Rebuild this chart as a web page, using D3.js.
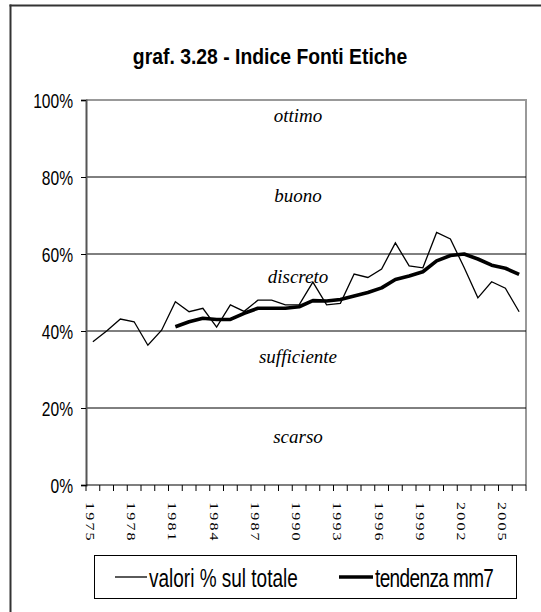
<!DOCTYPE html>
<html>
<head>
<meta charset="utf-8">
<script src="https://cdn.jsdelivr.net/npm/d3@7"></script>
<style>
  html, body { margin: 0; padding: 0; background: #fff; overflow: hidden; width: 541px; height: 612px; }
  svg { display: block; overflow: hidden; }
</style>
</head>
<body>
<svg id="chart" width="541" height="612"></svg>
<script>
// ---- data ----
const title = "graf. 3.28 - Indice Fonti Etiche";
const years = [1975, 1976, 1977, 1978, 1979, 1980, 1981, 1982, 1983, 1984, 1985, 1986, 1987, 1988, 1989, 1990,
               1991, 1992, 1993, 1994, 1995, 1996, 1997, 1998, 1999, 2000, 2001, 2002, 2003, 2004, 2005, 2006];
const values = [37.2, 40.0, 43.1, 42.4, 36.3, 40.2, 47.6, 45.0, 45.9, 41.0, 46.8, 45.1, 48.0, 48.0, 46.8, 46.8,
                52.7, 46.8, 47.2, 54.8, 53.9, 56.1, 62.9, 56.9, 56.4, 65.6, 63.9, 56.5, 48.6, 52.8, 51.1, 45.0];
const trend = [null, null, null, null, null, null, 41.1, 42.4, 43.3, 43.0, 43.0, 44.6, 45.9, 45.9, 45.9, 46.3,
               47.9, 47.8, 48.2, 49.1, 50.0, 51.2, 53.4, 54.3, 55.4, 58.2, 59.6, 60.0, 58.7, 57.1, 56.3, 54.7];
const yTicks = [0, 20, 40, 60, 80, 100];
const xLabelYears = [1975, 1978, 1981, 1984, 1987, 1990, 1993, 1996, 1999, 2002, 2005];
const bandLabels = ["scarso", "sufficiente", "discreto", "buono", "ottimo"];
const seriesNames = ["valori % sul totale", "tendenza mm7"];

// ---- layout ----
const svg = d3.select("#chart");
const L = 86, R = 526, T = 100, B = 485;
const x = d3.scaleBand().domain(years).range([L, R]);
const y = d3.scaleLinear().domain([0, 100]).range([B, T]);
const SANS = "'Liberation Sans', Arial, sans-serif";
const SERIF = "'Liberation Serif', 'Times New Roman', serif";

// outer frame: left and top edges only (the rest lies outside the picture)
svg.append("line").attr("x1", 10.5).attr("x2", 10.5).attr("y1", 4.5).attr("y2", 612)
  .attr("stroke", "#333").attr("stroke-width", 2);
svg.append("line").attr("x1", 9.5).attr("x2", 541).attr("y1", 5.5).attr("y2", 5.5)
  .attr("stroke", "#333").attr("stroke-width", 2);

// title
svg.append("text").attr("transform", "translate(270,64) scale(0.88,1)")
  .attr("text-anchor", "middle").attr("font-family", SANS).attr("font-weight", "bold")
  .attr("font-size", 22).attr("fill", "#000").text(title);

// plot border (top & right, gray)
svg.append("path").attr("d", `M${L},${T}H${R}V${B}`).attr("fill", "none")
  .attr("stroke", "#999").attr("stroke-width", 2);

// gridlines
svg.append("g").selectAll("line").data(yTicks.filter(d => d > 0 && d < 100)).join("line")
  .attr("x1", L).attr("x2", R).attr("y1", d => y(d)).attr("y2", d => y(d))
  .attr("stroke", "#000").attr("stroke-width", 1);

// band labels
svg.append("g").selectAll("text").data(bandLabels).join("text")
  .attr("x", 298).attr("y", (d, i) => y(i * 20 + 10) - 3.5 - 3.25 * i)
  .attr("text-anchor", "middle").attr("font-family", SERIF).attr("font-style", "italic")
  .attr("font-size", 19).attr("fill", "#000").text(d => d);

// y axis
const yAxis = svg.append("g").attr("transform", `translate(${L},0)`)
  .call(d3.axisLeft(y).tickValues(yTicks).tickSize(5).tickFormat(d => d + "%"));
yAxis.select(".domain").attr("stroke", "#555").attr("stroke-width", 2);
yAxis.selectAll(".tick line").attr("stroke", "#000");
yAxis.selectAll(".tick text").remove();
yAxis.selectAll(".tick").append("text")
  .attr("transform", "translate(-13,7) scale(0.8,1)")
  .attr("text-anchor", "end").attr("font-family", SANS).attr("font-size", 19.5)
  .attr("fill", "#000").text(d => d + "%");

// x axis
svg.append("line").attr("x1", L).attr("x2", R).attr("y1", B).attr("y2", B)
  .attr("stroke", "#000").attr("stroke-width", 1.2);
const bounds = years.map(d => x(d)).concat([x(years[years.length - 1]) + x.bandwidth()]);
svg.append("g").selectAll("line").data(bounds).join("line")
  .attr("x1", d => d).attr("x2", d => d).attr("y1", B).attr("y2", B + 6)
  .attr("stroke", "#000").attr("stroke-width", 1);
svg.append("g").selectAll("text").data(xLabelYears).join("text")
  .attr("transform", d => `translate(${x(d) + x.bandwidth() / 2 - 2.5},502) rotate(90) scale(1,0.8)`)
  .attr("dominant-baseline", "central").attr("font-family", SERIF).attr("font-size", 16)
  .attr("letter-spacing", 2.2).attr("fill", "#000").text(d => d);

// lines
const cx = d => x(d) + x.bandwidth() / 2;
const line = d3.line().defined(d => d[1] != null).x(d => cx(d[0])).y(d => y(d[1]));
svg.append("path").datum(years.map((d, i) => [d, values[i]])).attr("d", line)
  .attr("fill", "none").attr("stroke", "#000").attr("stroke-width", 1.3).attr("stroke-linejoin", "miter");
svg.append("path").datum(years.map((d, i) => [d, trend[i]])).attr("d", line)
  .attr("fill", "none").attr("stroke", "#000").attr("stroke-width", 3.6).attr("stroke-linejoin", "round");

// legend
const lg = svg.append("g");
lg.append("rect").attr("x", 94.5).attr("y", 555.5).attr("width", 422).attr("height", 43)
  .attr("fill", "#fff").attr("stroke", "#000").attr("stroke-width", 1);
const legendItems = [
  { name: seriesNames[0], x0: 115, x1: 147, w: 1.3, tx: 149, ls: 0 },
  { name: seriesNames[1], x0: 339, x1: 373, w: 3.6, tx: 375, ls: -0.8 }
];
legendItems.forEach(it => {
  lg.append("line").attr("x1", it.x0).attr("x2", it.x1).attr("y1", 577).attr("y2", 577)
    .attr("stroke", "#000").attr("stroke-width", it.w);
  lg.append("text").attr("transform", `translate(${it.tx},587) scale(0.76,1)`)
    .attr("font-family", SANS).attr("font-size", 25).attr("letter-spacing", it.ls)
    .attr("fill", "#000").text(it.name);
});
</script>
</body>
</html>
